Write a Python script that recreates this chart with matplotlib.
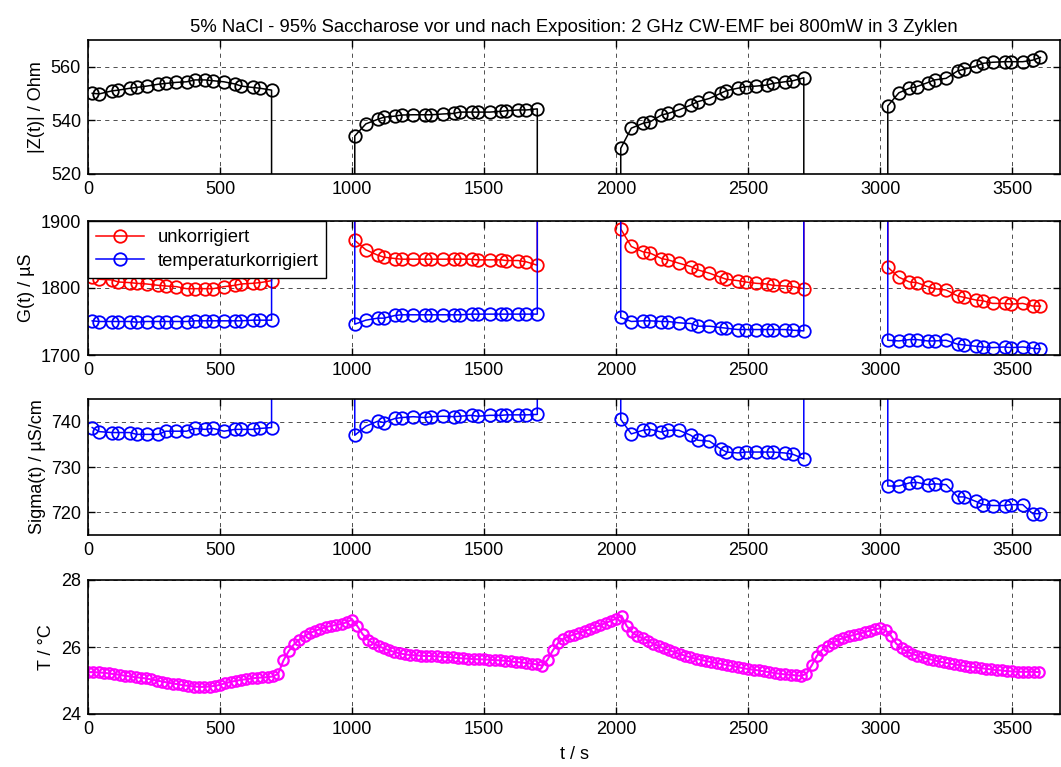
import numpy as np
import matplotlib
matplotlib.use("Agg")
import matplotlib.pyplot as plt

plt.rcParams['font.family'] = ['Liberation Sans', 'DejaVu Sans']
plt.rcParams['font.size'] = 13

# measurement times of the impedance sweeps, one list per cycle
t_cyc = [
    [16, 43, 90, 115, 159, 184, 222, 266, 295, 335, 373, 405, 443, 474, 515, 556, 581, 623, 651, 695],
    [1010, 1052, 1097, 1120, 1162, 1187, 1231, 1275, 1300, 1344, 1385, 1408, 1452, 1477, 1521, 1565, 1584, 1628, 1660, 1701],
    [2017, 2057, 2101, 2129, 2171, 2196, 2237, 2282, 2309, 2353, 2395, 2417, 2460, 2490, 2530, 2570, 2593, 2637, 2669, 2710],
    [3028, 3070, 3110, 3138, 3179, 3205, 3249, 3293, 3318, 3362, 3388, 3425, 3470, 3495, 3539, 3577, 3606],
]

Z_cyc = [
    [550.1, 549.9, 551.0, 551.3, 552.0, 552.3, 552.8, 553.5, 553.8, 554.2, 554.4, 555.1, 555.1, 554.8, 554.4, 553.6, 552.8, 552.3, 552.0, 551.3],
    [534.2, 538.7, 540.4, 541.2, 541.6, 542.0, 542.1, 542.1, 542.1, 542.4, 542.6, 543.1, 543.1, 543.1, 543.1, 543.4, 543.6, 543.9, 543.9, 544.3],
    [529.6, 537.1, 538.9, 539.5, 542.0, 542.6, 543.9, 545.7, 547.0, 548.2, 550.1, 551.1, 552.0, 552.6, 552.8, 553.2, 553.8, 554.4, 554.8, 555.9],
    [545.4, 550.3, 552.0, 552.6, 554.1, 555.1, 555.7, 558.5, 559.1, 560.3, 561.3, 561.7, 561.9, 561.9, 561.9, 562.5, 563.5],
]

G_raw_cyc = [
    [1816, 1813, 1812, 1809, 1808, 1807, 1806, 1804, 1803, 1802, 1799, 1799, 1799, 1799, 1802, 1804, 1806, 1807, 1808, 1811],
    [1871, 1857, 1849, 1846, 1844, 1843, 1843, 1843, 1843, 1843, 1843, 1843, 1843, 1842, 1842, 1842, 1841, 1841, 1839, 1834],
    [1888, 1862, 1854, 1852, 1844, 1842, 1837, 1832, 1827, 1822, 1816, 1813, 1811, 1809, 1807, 1806, 1804, 1803, 1802, 1799],
    [1831, 1816, 1809, 1808, 1802, 1799, 1797, 1788, 1786, 1782, 1781, 1777, 1777, 1776, 1777, 1773, 1773],
]

G_corr_cyc = [
    [1751, 1750, 1750, 1750, 1750, 1749, 1750, 1750, 1750, 1750, 1750, 1751, 1751, 1751, 1751, 1751, 1751, 1752, 1752, 1752],
    [1746, 1752, 1755, 1755, 1759, 1760, 1760, 1760, 1760, 1760, 1760, 1760, 1761, 1761, 1761, 1761, 1761, 1761, 1761, 1761],
    [1756, 1750, 1751, 1751, 1750, 1750, 1748, 1747, 1743, 1743, 1741, 1740, 1738, 1738, 1738, 1738, 1738, 1738, 1737, 1736],
    [1722, 1721, 1723, 1723, 1721, 1721, 1722, 1716, 1715, 1713, 1712, 1711, 1712, 1711, 1712, 1710, 1709],
]

sigma_cyc = [
    [738.7, 737.8, 737.6, 737.6, 737.6, 737.2, 737.2, 737.2, 737.9, 737.9, 737.9, 738.5, 738.3, 738.5, 737.9, 738.3, 738.3, 738.3, 738.5, 738.7],
    [737.0, 739.0, 740.1, 739.8, 740.7, 740.9, 741.1, 740.9, 741.1, 741.2, 741.1, 741.2, 741.4, 741.2, 741.4, 741.4, 741.5, 741.5, 741.5, 741.6],
    [740.5, 737.3, 738.1, 738.3, 737.7, 738.1, 738.1, 737.0, 735.9, 735.7, 734.0, 733.3, 733.1, 733.3, 733.3, 733.3, 733.3, 733.1, 732.8, 731.8],
    [725.8, 725.8, 726.5, 726.6, 726.1, 726.3, 726.1, 723.4, 723.4, 722.4, 721.7, 721.5, 721.5, 721.7, 721.7, 719.7, 719.7],
]

# readings logged while the field was on (off scale in the plot)
Z_gap = 0.0
G_gap = 5000.0
sigma_gap = 2000.0

# temperature, every 20 s
t_T = np.arange(0, 3601, 20)
T = [25.25, 25.25, 25.24, 25.23, 25.21, 25.19, 25.17, 25.14, 25.12, 25.10,
     25.08, 25.06, 25.03, 25.00, 24.97, 24.94, 24.91, 24.89, 24.86, 24.84,
     24.82, 24.81, 24.81, 24.82, 24.84, 24.87, 24.92, 24.96, 24.99, 25.02,
     25.04, 25.06, 25.08, 25.09, 25.10, 25.12, 25.20, 25.60, 25.88, 26.08,
     26.22, 26.33, 26.42, 26.48, 26.54, 26.59, 26.63, 26.66, 26.69, 26.74,
     26.82, 26.62, 26.38, 26.22, 26.11, 26.03, 25.96, 25.90, 25.85, 25.81,
     25.78, 25.76, 25.75, 25.74, 25.73, 25.73, 25.72, 25.71, 25.70, 25.69,
     25.67, 25.66, 25.65, 25.64, 25.63, 25.63, 25.62, 25.61, 25.60, 25.59,
     25.57, 25.55, 25.54, 25.52, 25.50, 25.48, 25.44, 25.62, 25.90, 26.12,
     26.25, 26.32, 26.37, 26.42, 26.48, 26.53, 26.59, 26.65, 26.72, 26.78,
     26.85, 26.93, 26.62, 26.44, 26.33, 26.26, 26.19, 26.10, 26.03, 25.96,
     25.90, 25.85, 25.79, 25.74, 25.69, 25.65, 25.62, 25.58, 25.55, 25.52,
     25.49, 25.46, 25.43, 25.40, 25.37, 25.34, 25.32, 25.30, 25.27, 25.25,
     25.22, 25.20, 25.18, 25.17, 25.15, 25.14, 25.20, 25.45, 25.74, 25.92,
     26.04, 26.13, 26.21, 26.27, 26.32, 26.36, 26.40, 26.44, 26.49, 26.53,
     26.56, 26.50, 26.33, 26.10, 25.96, 25.87, 25.80, 25.74, 25.69, 25.65,
     25.61, 25.57, 25.54, 25.51, 25.48, 25.46, 25.43, 25.41, 25.39, 25.37,
     25.35, 25.33, 25.31, 25.30, 25.28, 25.27, 25.26, 25.26, 25.26, 25.26,
     25.25]

title = "5% NaCl - 95% Saccharose vor und nach Exposition: 2 GHz CW-EMF bei 800mW in 3 Zyklen"


def join_cycles(vals, gap):
    # one continuous trace, dropping to the off-scale value between cycles
    ts, vs = [], []
    for i, (t, v) in enumerate(zip(t_cyc, vals)):
        if i > 0:
            ts.append(t[0]); vs.append(gap)
        ts.extend(t); vs.extend(v)
        if i < len(vals) - 1:
            ts.append(t[-1]); vs.append(gap)
    return np.array(ts, float), np.array(vs, float)


fig = plt.figure(figsize=(10.61, 7.67), dpi=100)
W, H = 1061, 767
left, right = 88, 1060
rows = [(40, 174), (221, 355), (399, 535), (580, 714)]
axes = [fig.add_axes([left / W, 1 - b / H, (right - left) / W, (b - t) / H]) for t, b in rows]

mk = dict(marker='o', mfc='none', ms=9, mew=1.3, lw=1.1)

ax = axes[0]
x, y = join_cycles(Z_cyc, Z_gap)
ax.plot(x, y, color='black', **mk)
ax.set_ylim(520, 570)
ax.set_yticks([520, 540, 560])
ax.set_ylabel("|Z(t)| / Ohm")
ax.set_title(title, fontsize=13.3, pad=6)

ax = axes[1]
x, y = join_cycles(G_raw_cyc, G_gap)
ax.plot(x, y, color='red', label='unkorrigiert', **mk)
x, y = join_cycles(G_corr_cyc, G_gap)
ax.plot(x, y, color='blue', label='temperaturkorrigiert', **mk)
ax.set_ylim(1700, 1900)
ax.set_yticks([1700, 1800, 1900])
ax.set_ylabel("G(t) / µS")
leg = ax.legend(loc='upper left', borderaxespad=0, fancybox=False, framealpha=1,
                edgecolor='black', handlelength=2.6, borderpad=0.45, labelspacing=0.35,
                handletextpad=0.7, fontsize=13.3)
leg.get_frame().set_linewidth(1.0)

ax = axes[2]
x, y = join_cycles(sigma_cyc, sigma_gap)
ax.plot(x, y, color='blue', **mk)
ax.set_ylim(715, 745)
ax.set_yticks([720, 730, 740])
ax.set_ylabel("Sigma(t) / µS/cm")

ax = axes[3]
ax.plot(t_T, T, color='#ff00ff', marker='o', mfc='none', ms=7.5, mew=1.6, lw=1.5)
ax.set_ylim(24, 28)
ax.set_yticks([24, 26, 28])
ax.set_ylabel("T / °C")
ax.set_xlabel("t / s", labelpad=6)

for ax in axes:
    ax.set_xlim(0, 3680)
    ax.set_xticks([0, 500, 1000, 1500, 2000, 2500, 3000, 3500])
    ax.tick_params(direction='in', top=True, right=True, length=5, width=1, pad=5)
    ax.grid(True, color='black', linestyle=(0, (5, 5)), linewidth=0.6, alpha=0.8)
    for s in ax.spines.values():
        s.set_linewidth(1.2)

fig.savefig("out.png", dpi=100)
